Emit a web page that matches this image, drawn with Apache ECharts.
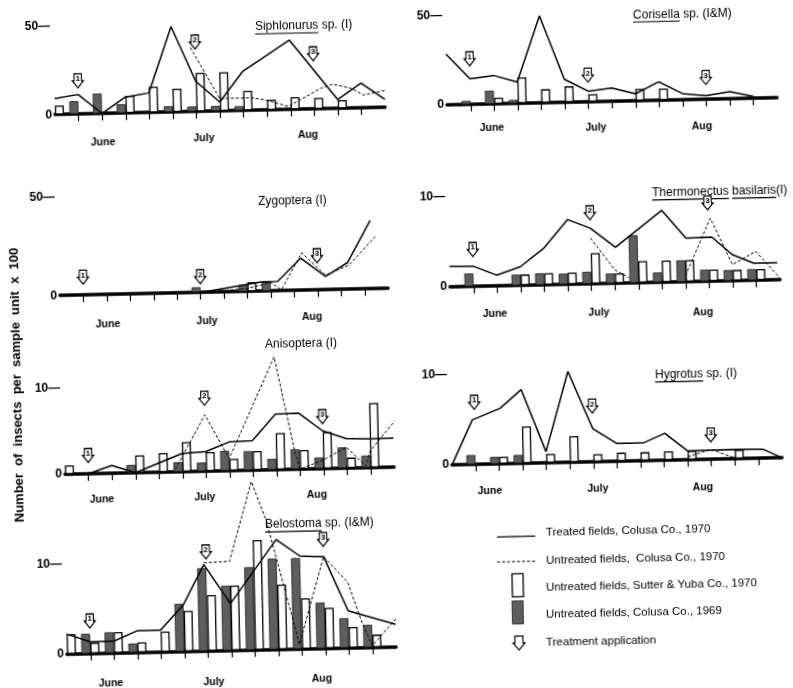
<!DOCTYPE html>
<html><head><meta charset="utf-8">
<script src="https://cdn.jsdelivr.net/npm/echarts@6/dist/echarts.min.js"></script>
<style>
html,body{margin:0;padding:0;background:#fff;overflow:hidden;}
#c{width:793px;height:688px;transform:rotate(-1.25deg);transform-origin:396.5px 344px;}
</style></head><body><div id="c"></div>
<script>
// ---------------- DATA ----------------
const weeks = ['0','1','2','3','4','5','6','7','8','9','10','11','12','13','14'];
const months = ['June','July','Aug'];
const treatmentWeeks = [1, 6, 11];

// Siphlonurus sp. (I)
const sipTreated   = [[0,9],[1,11],[2,0],[3,9],[4,11],[5,48],[6,17],[7,5],[8,22],[10,39],[12,5],[13,14],[14,4.5]];
const sipUntreated = [[5.8,36],[7,7],[8.4,7],[9,5.4],[9.9,1.7],[11.3,11.6],[11.8,13.7],[12.6,11.1],[13.1,7.2],[14,9.5]];
const sipSutter    = [5,null,null,9.7,14.5,13,21.6,21.8,10.9,5.8,6.9,6.2,4.6,null,null];
const sipColusa69  = [null,7.3,11.3,5,null,3.3,2.9,2.9,2.5,null,null,null,null,null,null];

// Corisella sp. (I&M)
const corTreated   = [[0,28.6],[1,14.4],[2,16],[3,12],[4,49],[5,13],[6,6],[7,7.5],[8,4],[9,10.4],[10,3.5],[11,2],[12,4],[13,1]];
const corUntreated = [];
const corSutter    = [null,null,3.5,14.5,7.6,9,4.3,null,6.7,6.5,null,null,null,null,null];
const corColusa69  = [null,2,7.5,2,null,null,null,null,null,null,null,null,null,null,null];

// Zygoptera (I)
const zygTreated   = [[0,0],[6,0],[8.6,4.7],[9.3,4.8],[10.3,16.3],[11.35,6.8],[12.3,13.6],[13.3,34.8]];
const zygUntreated = [[6,0],[8,1.5],[9,4.3],[9.45,0.5],[10.35,19],[11.35,7.5],[12.35,12.2],[13.5,26.5]];
const zygSutter    = [null,null,null,null,null,null,null,null,4.7,null,null,null,null,null,null];
const zygColusa69  = [null,null,null,null,null,null,2.7,null,3.4,4.8,null,null,null,null,null];

// Thermonectus basilaris (I)
const theTreated   = [[0,2.3],[1,2.25],[2,1.2],[3,2.07],[4,4.05],[5.05,7.2],[6,6.2],[7.05,4.0],[9.05,8.0],[10.05,4.85],[11.15,4.9],[12,2.9],[12.9,1.9],[13.9,1.9]];
const theUntreated = [[6,5.1],[7,1.5],[7.6,0.6],[8.8,null],[10,0.7],[11.1,7.0],[12,1.8],[13,3.2],[14,0.2]];
const theSutter    = [null,null,null,1.2,1.3,1.3,3.4,1.1,2.4,2.4,2.4,1.3,1.2,1.25,null];
const theColusa69  = [null,1.45,null,1.2,1.3,1.2,1.35,1.1,5.3,1.1,2.4,1.3,1.2,1.25,null];

// Anisoptera (I)
const aniTreated   = [[0,0],[1,0],[2,0.9],[3,0],[5,2.1],[6,2.25],[7,3.3],[8,3.4],[9,6.4],[10,6.45],[11,4.35],[12,3.4],[13,3.3],[14,3.35]];
const aniUntreated = [[4.7,0.3],[6,6.5],[7,1.4],[9,13],[9.8,2],[10,0],[11,1],[12,2.4],[12.8,0.2],[13,1.9],[14.1,5.4]];
const aniSutter    = [1.0,null,null,2.0,2.2,3.4,2.2,1.35,2.2,4.2,2.2,4.2,1.2,7.45,null];
const aniColusa69  = [null,null,null,0.9,null,1.1,1.0,2.3,2.2,1.25,2.3,1.3,2.4,1.4,null];

// Hygrotus sp. (I)
const hygTreated   = [[0,0],[0.9,4.95],[2.1,6.2],[3,8.2],[4,1.25],[5,10.1],[6,3.7],[7,2.0],[8.15,2.0],[9.05,3.0],[10,1.0],[12,1.05],[13.2,1.0],[14,0]];
const hygUntreated = [[10,0.35],[11,1.1],[12,0.1]];
const hygSutter    = [null,null,0.8,4.1,1.0,2.9,0.85,0.95,0.95,1.0,1.0,null,1.0,null,null];
const hygColusa69  = [null,1.05,0.8,0.95,null,null,null,null,null,null,null,null,null,null,null];

// Belostoma sp. (I&M)
const belTreated   = [[0,2.2],[1,1.3],[2,1.3],[3,2.4],[4,2.4],[5,5.2],[5.9,9.6],[7,5.2],[9,12.2],[10,10.3],[11,10.2],[12,4.1],[14,2.5]];
const belUntreated = [[5.9,9.8],[7,9.9],[8,18.7],[8.6,14.3],[9.9,0.5],[11,10.2],[12,7.3],[12.6,2.6],[13,0.2],[14.2,3.6]];
const belSutter    = [2.2,1.2,2.3,1.1,2.25,4.5,6.2,7.2,12.2,7.2,5.6,4.5,2.3,1.4,null];
const belColusa69  = [null,2.2,2.3,1.0,null,5.3,9.2,7.2,9.2,10.1,10.1,5.1,3.3,2.5,null];

const legendLabels = ['Treated fields, Colusa Co., 1970','Untreated fields,  Colusa Co., 1970','Untreated fields, Sutter & Yuba Co., 1970','Untreated fields, Colusa Co., 1969','Treatment application'];
const yTitle = 'Number  of  insects  per  sample  unit  x  100';

// ---------------- LAYOUT (target-pixel coordinates) ----------------
const panels = [
 {title:[['Siphlonurus',1],[' sp. (I)',0]], tx:255, ty:27, xl:55, yl:116, xr:385, yr:106, yt:27, yMax:50, arrowY:[18.7,39,31], mpos:[[103,142],[204,138],[308,135]], d:[sipTreated,sipUntreated,sipSutter,sipColusa69]},
 {title:[['Corisella',1],[' sp. (I&M)',0]], tx:633, ty:15, xl:447, yl:104, xr:777, yr:98.7, yt:15, yMax:50, arrowY:[25.6,15,12.2], mpos:[[492,128],[596,128],[702,126]], d:[corTreated,corUntreated,corSutter,corColusa69]},
 {title:[['Zygoptera (I)',0]], tx:258, ty:202, xl:60, yl:296.7, xr:388, yr:287.3, yt:198.3, yMax:50, arrowY:[9.1,8,17.4], mpos:[[108,324],[207,321],[312,317]], d:[zygTreated,zygUntreated,zygSutter,zygColusa69]},
 {title:[['Thermonectus',1],[' ',0],['basilaris',1],['(I)',0]], tx:652, ty:193, xl:450, yl:286.7, xr:780, yr:280, yt:196.7, yMax:10, arrowY:[4.1,7.9,8.7], mpos:[[495,314],[599,313],[703,312]], d:[theTreated,theUntreated,theSutter,theColusa69]},
 {title:[['Anisoptera (I)',0]], tx:265, ty:345, xl:65, yl:474, xr:394, yr:467.3, yt:387.3, yMax:10, arrowY:[2.1,8.4,6.0], mpos:[[102,500],[205,497],[317,495]], d:[aniTreated,aniUntreated,aniSutter,aniColusa69]},
 {title:[['Hygrotus',1],[' sp. (I)',0]], tx:655, ty:375, xl:452, yl:465, xr:782, yr:457.7, yt:375, yMax:10, arrowY:[6.9,6.2,2.7], mpos:[[490,491],[598,489],[703,487]], d:[hygTreated,hygUntreated,hygSutter,hygColusa69]},
 {title:[['Belostoma',1],[' sp. (I&M)',0]], tx:265, ty:525, xl:67, yl:655, xr:396, yr:645.7, yt:565, yMax:10, arrowY:[3.6,11,12.1], mpos:[[111,683],[214,682],[322,679]], d:[belTreated,belUntreated,belSutter,belColusa69]}
];

const TH = 1.25*Math.PI/180, CS = Math.cos(TH), SN = Math.sin(TH), CX = 396.5, CY = 344;
function inv(x, y){ const dx = x-CX, dy = y-CY; return [CX + dx*CS - dy*SN, CY + dx*SN + dy*CS]; }
const FONT = '"Liberation Sans", Arial, sans-serif';
const mctx = document.createElement('canvas').getContext('2d');
function tw(t, size, weight){ mctx.font = (weight||'normal')+' '+size+'px '+FONT; return mctx.measureText(t).width; }
const arrowPts = [[-4,-7],[4,-7],[4,0],[6,0],[0,7],[-6,0],[-4,0]];
const arrowPath = 'path://M2,0 L10,0 L10,7 L12,7 L6,14 L0,7 L2,7 Z';
const HATCH = '#5e5e5e';

const grids = [], xAxes = [], yAxes = [], series = [], graphics = [];
function textEl(x, y, t, size, weight, align, rot){
  const P = inv(x, y);
  const el = {type:'text', x:P[0], y:P[1], silent:true,
    style:{text:t, fontSize:size, fontWeight:weight||'normal', fontFamily:FONT, fill:'#000',
      align:align||'center', verticalAlign:'middle', textAlign:align||'center', textVerticalAlign:'middle'}};
  if (rot) el.rotation = rot;
  return el;
}

panels.forEach((p, i) => {
  const L = inv(p.xl, p.yl), R = inv(p.xr, p.yr), T = inv(p.xl, p.yt);
  const base = (L[1]+R[1])/2, h = L[1]-T[1];
  grids.push({left:L[0], top:base-h, width:R[0]-L[0], height:h});
  xAxes.push({type:'category', gridIndex:i, data:weeks, boundaryGap:false,
    axisLine:{show:true, lineStyle:{color:'#000', width:3.5}},
    axisTick:{show:true, interval:(idx)=> idx>0 && idx<14, length:7, lineStyle:{color:'#000', width:1.2}},
    axisLabel:{show:false}, splitLine:{show:false}});
  xAxes.push({type:'value', gridIndex:i, min:0, max:14, show:false});
  yAxes.push({type:'value', gridIndex:i, min:0, max:p.yMax, interval:p.yMax,
    axisLine:{show:false}, axisTick:{show:false}, splitLine:{show:false},
    axisLabel:{formatter:v => v===0 ? '0' : v+'—', color:'#000', fontSize:12, fontWeight:'bold', fontFamily:FONT, margin:3}});
  const [tr, un, su, co] = p.d;
  series.push({type:'bar', name:legendLabels[3], xAxisIndex:2*i, yAxisIndex:i, data:co, barWidth:9, barGap:'0%', clip:false, z:2, silent:true,
    itemStyle:{color:HATCH, borderColor:'#1a1a1a', borderWidth:0.8}});
  series.push({type:'bar', name:legendLabels[2], xAxisIndex:2*i, yAxisIndex:i, data:su, barWidth:9, barGap:'0%', clip:false, z:2, silent:true,
    itemStyle:{color:'#fff', borderColor:'#000', borderWidth:1.3}});
  if (un.length) series.push({type:'line', name:legendLabels[1], xAxisIndex:2*i+1, yAxisIndex:i, data:un, symbol:'none', clip:false, z:4, silent:true,
    connectNulls:false, lineStyle:{color:'#000', width:1, type:[3,2]}});
  series.push({type:'line', name:legendLabels[0], xAxisIndex:2*i+1, yAxisIndex:i, data:tr, symbol:'none', clip:false, z:5, silent:true,
    lineStyle:{color:'#000', width:1.5}});
  series.push({type:'scatter', xAxisIndex:2*i+1, yAxisIndex:i, clip:false, z:6, silent:true,
    data: treatmentWeeks.map((k,j)=>[k, p.arrowY[j]]),
    symbol: arrowPath, symbolSize:[11,14],
    itemStyle:{color:'#fff', borderColor:'#000', borderWidth:1.2, opacity:1},
    label:{show:true, position:'inside', offset:[0,-2], formatter:(q)=> String(q.dataIndex+1), fontSize:8, fontWeight:'bold', color:'#000', fontFamily:FONT}});
  p.mpos.forEach((m, j) => graphics.push(textEl(m[0], m[1], months[j], 10.5, 'bold', 'center')));
  const P0 = inv(p.tx, p.ty); let x = P0[0];
  p.title.forEach(seg => {
    const w = tw(seg[0], 12, 'normal');
    graphics.push({type:'text', x:x, y:P0[1], silent:true, style:{text:seg[0], fontSize:12, fontFamily:FONT, fill:'#000', align:'left', verticalAlign:'middle', textAlign:'left', textVerticalAlign:'middle'}});
    if (seg[1]) graphics.push({type:'line', silent:true, shape:{x1:x, y1:P0[1]+7, x2:x+w, y2:P0[1]+7}, style:{stroke:'#000', lineWidth:1.1}});
    x += w;
  });
});

graphics.push(textEl(17, 385, yTitle, 13, 'bold', 'center', Math.PI/2));

(function(){
  const ys = [533, 561, 588, 615, 643];
  let A = inv(497, 537);
  graphics.push({type:'line', silent:true, shape:{x1:A[0], y1:A[1], x2:A[0]+38, y2:A[1]}, style:{stroke:'#000', lineWidth:1.4}});
  A = inv(497, 562);
  graphics.push({type:'line', silent:true, shape:{x1:A[0], y1:A[1], x2:A[0]+38, y2:A[1]}, style:{stroke:'#000', lineWidth:1, lineDash:[3,2]}});
  A = inv(512, 574);
  graphics.push({type:'rect', silent:true, shape:{x:A[0], y:A[1], width:11, height:23}, style:{fill:'#fff', stroke:'#000', lineWidth:1.3}});
  A = inv(512, 601);
  graphics.push({type:'rect', silent:true, shape:{x:A[0], y:A[1], width:11, height:23}, style:{fill:HATCH, stroke:'#1a1a1a', lineWidth:0.8}});
  A = inv(519, 643);
  graphics.push({type:'polygon', silent:true, shape:{points:arrowPts.map(q=>[A[0]+q[0], A[1]+q[1]])}, style:{fill:'#fff', stroke:'#000', lineWidth:1.2}});
  legendLabels.forEach((t, j) => graphics.push(textEl(546, ys[j], t, 11.5, 'normal', 'left')));
})();

const chart = echarts.init(document.getElementById('c'), null, {renderer:'canvas'});
chart.setOption({
  animation:false,
  backgroundColor:'transparent',
  grid:grids, xAxis:xAxes, yAxis:yAxes, series:series, graphic:graphics
});
</script></body></html>
